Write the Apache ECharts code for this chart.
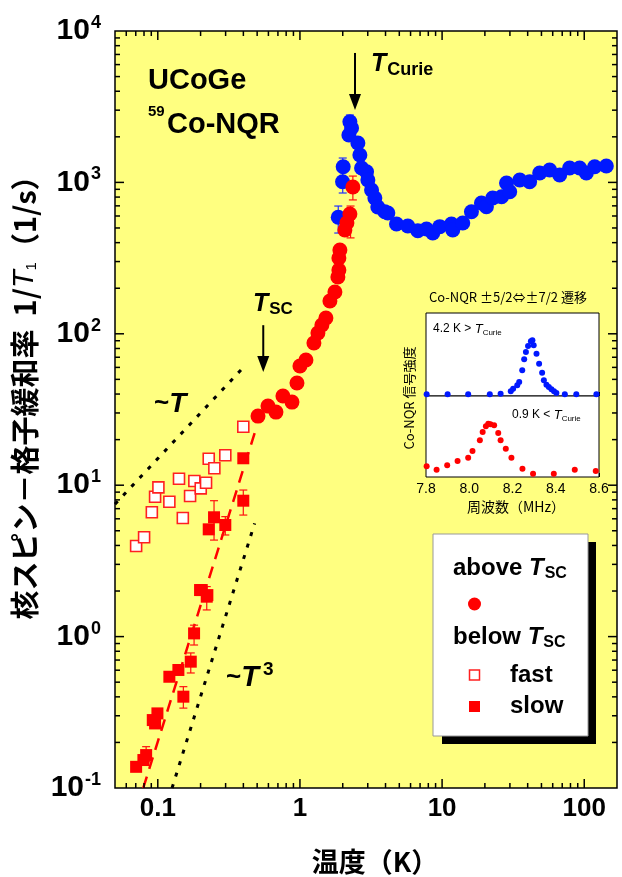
<!DOCTYPE html>
<html><head><meta charset="utf-8">
<script src="https://cdn.jsdelivr.net/npm/echarts@6/dist/echarts.min.js"></script>
<style>html,body{margin:0;padding:0;background:#fff}#c{width:622px;height:877px}</style>
</head><body><div id="c"></div>
<script>
// ---------- data ----------
const blueCircles = [
[1.86,588],[1.995,1011],[2.015,1270],[2.21,2056],[2.246,2518],[2.308,2288],
[2.556,1820],[2.64,1517],[2.714,1245],[2.942,1177],[3.005,1038],[3.19,891],
[3.365,789],[3.53,688],[3.957,640],[4.153,628],[4.78,531],[5.74,515],[6.75,480],
[7.77,492],[8.6,463],[9.63,510],[11.64,531],[11.89,485],[13.98,539],[16.09,640],
[18.92,731],[20.5,691],[22.7,789],[26.2,804],[28.4,991],[29.9,868],[35.2,1038],
[41.3,1011],[48.6,1153],[57.1,1207],[67.2,1119],[78.9,1245],[92.8,1245],[103.5,1153],
[118.4,1270],[143,1283]];
const redCircles = [
[0.507,28.6],[0.596,33.3],[0.678,30.4],[0.759,38.8],[0.879,35.4],[0.953,47.3],
[1.0,61.3],[1.102,67.1],[1.254,86.9],[1.338,101.2],[1.427,114.3],[1.523,127.2],
[1.625,164.7],[1.762,188.8],[1.849,237],[1.879,264],[1.879,317],[1.91,358],
[2.07,485],[2.14,540],[2.246,618],[2.357,932]];
const fastSquares = [
[0.0704,3.97],[0.0801,4.53],[0.0908,6.62],[0.0957,8.39],[0.101,9.67],[0.1206,7.78],
[0.141,11.04],[0.150,6.07],[0.1687,8.48],[0.1808,10.66],[0.2005,9.53],[0.2185,10.39],
[0.2282,14.96],[0.25,12.93],[0.2985,15.76],[0.3995,24.3]];
const slowSquares = [
[0.3995,15.06],[0.3995,7.9],[0.2487,6.14],[0.2282,5.11],[0.2985,5.46],[0.2038,2.03],
[0.2232,1.88],[0.1983,2.03],[0.221,1.835],[0.18,1.05],[0.1706,0.683],[0.1396,0.602],
[0.1206,0.543],[0.1513,0.401],[0.0994,0.311],[0.0922,0.281],[0.0957,0.267],
[0.0828,0.165],[0.0792,0.153],[0.0704,0.138]];
// [T, low, high, colour]
const errorBars = [
[2.246,2218,2786,'b'],[2.0,851,1449,'b'],[1.86,463,698,'b'],
[2.357,766,1101,'r'],[2.27,430,698,'r'],
[0.3995,6.35,9.29,'r'],[0.2487,4.34,7.9,'r'],[0.2985,4.69,6.2,'r'],[0.221,1.5,2.14,'r'],
[0.18,0.88,1.19,'r'],[0.1706,0.575,0.78,'r'],[0.1513,0.337,0.467,'r'],[0.0828,0.149,0.1875,'r']];
const linearGuide = [[0.05,7.5],[0.42,63]];
const cubicGuide = [[0.126,0.1],[0.48,5.6]];
const slowFit = [[0.079,0.1],[0.49,23.5]];
// arrows: [T, from, to]
const arrows = [[2.44,7160,3006],[0.552,114,56]];
const xMajor = [0.1,1,10,100];
const xLabels = ['0.1','1','10','100'];
const yMajor = [0.1,1,10,100,1000,10000];
const yExp = ['-1','0','1','2','3','4'];
// inset spectra [MHz, intensity a.u.]
const insetAbove = [
[7.803,5],[7.9,5],[7.995,5],[8.095,5],[8.145,7],[8.192,14],[8.203,22],[8.222,32],
[8.231,42],[8.245,77],[8.254,110],[8.262,132],[8.272,150],[8.285,164],[8.292,167],
[8.298,152],[8.311,127],[8.323,97],[8.337,70],[8.345,47],[8.357,34],[8.368,27],
[8.38,20],[8.392,14],[8.403,9],[8.442,5],[8.495,5],[8.588,5]];
const insetBelow = [
[7.803,32],[7.849,22],[7.898,35],[7.946,48],[7.995,58],[8.015,78],[8.049,110],
[8.062,135],[8.077,152],[8.088,160],[8.098,158],[8.115,155],[8.134,132],[8.145,110],
[8.169,85],[8.195,58],[8.246,25],[8.295,10],[8.391,10],[8.488,22],[8.585,18]];

// ---------- chart ----------
const chart = echarts.init(document.getElementById('c'), null, {renderer:'canvas'});
const SANS = 'Liberation Sans, Arial, Helvetica, sans-serif';
const JP = 'Noto Sans CJK JP, sans-serif';
const xMin = 0.05, xMax = 170, yMin = 0.1, yMax = 10000;

function minorTicks(lo, hi){
  const out=[];
  for(let e=-3;e<=4;e++) for(let m=1;m<=9;m++){
    const v=m*Math.pow(10,e); if(v>lo*1.0001 && v<hi*0.9999) out.push([v, m===1?1:0]);
  }
  return out;
}
const xTicks = minorTicks(xMin,xMax);
const yTicks = minorTicks(yMin,yMax);

const tickStyle = {stroke:'#000', lineWidth:1.5};
const xTickSeries = {
  type:'custom', xAxisIndex:0, yAxisIndex:0, silent:true, z:6, clip:false,
  data: xTicks.map(t=>[t[0],1,t[1]]), encode:{x:0,y:1},
  renderItem(params, api){
    const cs=params.coordSys; const len=api.value(2)===1?9:5;
    const px=api.coord([api.value(0),1])[0];
    return {type:'group', children:[
      {type:'line', shape:{x1:px,y1:cs.y+cs.height,x2:px,y2:cs.y+cs.height-len}, style:tickStyle},
      {type:'line', shape:{x1:px,y1:cs.y,x2:px,y2:cs.y+len}, style:tickStyle}]};
  }
};
const yTickSeries = {
  type:'custom', xAxisIndex:0, yAxisIndex:0, silent:true, z:6, clip:false,
  data: yTicks.map(t=>[1,t[0],t[1]]), encode:{x:0,y:1},
  renderItem(params, api){
    const cs=params.coordSys; const len=api.value(2)===1?9:5;
    const py=api.coord([1,api.value(1)])[1];
    return {type:'group', children:[
      {type:'line', shape:{x1:cs.x,y1:py,x2:cs.x+len,y2:py}, style:tickStyle},
      {type:'line', shape:{x1:cs.x+cs.width,y1:py,x2:cs.x+cs.width-len,y2:py}, style:tickStyle}]};
  }
};
const errSeries = {
  type:'custom', xAxisIndex:0, yAxisIndex:0, silent:true, z:3,
  data: errorBars.map(e=>[e[0],e[1],e[2],e[3]==='b'?1:0]), encode:{x:0,y:[1,2]},
  renderItem(params, api){
    const a=api.coord([api.value(0),api.value(1)]);
    const b=api.coord([api.value(0),api.value(2)]);
    const col=api.value(3)===1?'#2030ff':'#ff1010';
    const st={stroke:col,lineWidth:1.2}; const w=4;
    return {type:'group', children:[
      {type:'line', shape:{x1:a[0],y1:a[1],x2:b[0],y2:b[1]}, style:st},
      {type:'line', shape:{x1:a[0]-w,y1:a[1],x2:a[0]+w,y2:a[1]}, style:st},
      {type:'line', shape:{x1:b[0]-w,y1:b[1],x2:b[0]+w,y2:b[1]}, style:st}]};
  }
};
const arrowSeries = {
  type:'custom', xAxisIndex:0, yAxisIndex:0, silent:true, z:7, clip:false,
  data: arrows, encode:{x:0,y:[1,2]},
  renderItem(params, api){
    const a=api.coord([api.value(0),api.value(1)]);
    const b=api.coord([api.value(0),api.value(2)]);
    const hl=16, hw=6;
    return {type:'group', children:[
      {type:'line', shape:{x1:a[0],y1:a[1],x2:b[0],y2:b[1]-hl+2}, style:{stroke:'#000',lineWidth:2}},
      {type:'polygon', shape:{points:[[b[0]-hw,b[1]-hl],[b[0]+hw,b[1]-hl],[b[0],b[1]]]}, style:{fill:'#000'}}]};
  }
};

function richT(size, subSize){
  return {t:{fontSize:size,fontWeight:'bold',fontStyle:'italic',fontFamily:SANS,fill:'#000'},
          s:{fontSize:subSize,fontWeight:'bold',fontFamily:SANS,fill:'#000',padding:[size*0.45,0,0,1]}};
}
const legendRich = {a:{fontSize:24,fontWeight:'bold',fontFamily:SANS},t:{fontSize:24,fontWeight:'bold',fontStyle:'italic',fontFamily:SANS},s:{fontSize:16,fontWeight:'bold',fontFamily:SANS,padding:[12,0,0,1]}};

const graphic = [
  {type:'text', x:148, y:81, style:{text:'UCoGe', font:'bold 29px '+SANS, fill:'#000', textVerticalAlign:'middle', verticalAlign:'middle'}},
  {type:'text', x:148, y:112, style:{text:'59', font:'bold 15px '+SANS, fill:'#000', textVerticalAlign:'middle', verticalAlign:'middle'}},
  {type:'text', x:167, y:125, style:{text:'Co-NQR', font:'bold 29px '+SANS, fill:'#000', textVerticalAlign:'middle', verticalAlign:'middle'}},
  {type:'text', x:371, y:64, style:{text:'{t|T}{s|Curie}', rich:richT(25,18), textVerticalAlign:'middle', verticalAlign:'middle'}},
  {type:'text', x:253, y:304, style:{text:'{t|T}{s|SC}', rich:richT(25,17), textVerticalAlign:'middle', verticalAlign:'middle'}},
  {type:'text', x:154, y:404, style:{text:'{n|~}{t|T}', rich:{n:{fontSize:26,fontWeight:'bold',fontFamily:SANS},t:{fontSize:28,fontWeight:'bold',fontStyle:'italic',fontFamily:SANS}}, textVerticalAlign:'middle', verticalAlign:'middle'}},
  {type:'text', x:226, y:678, style:{text:'{n|~}{t|T}{p|3}', rich:{n:{fontSize:26,fontWeight:'bold',fontFamily:SANS},t:{fontSize:29,fontWeight:'bold',fontStyle:'italic',fontFamily:SANS},p:{fontSize:19,fontWeight:'bold',fontFamily:SANS,padding:[0,0,16,4]}}, textVerticalAlign:'middle', verticalAlign:'middle'}},
  // legend box
  {type:'rect', shape:{x:442,y:542,width:154,height:202}, style:{fill:'#000'}, z:10},
  {type:'rect', shape:{x:433,y:534,width:155,height:202}, style:{fill:'#fff',stroke:'#999',lineWidth:1}, z:11},
  {type:'text', x:453, y:568, z:12, style:{text:'{a|above }{t|T}{s|SC}', rich:legendRich, textVerticalAlign:'middle', verticalAlign:'middle'}},
  {type:'circle', shape:{cx:474.5,cy:604,r:6.5}, style:{fill:'#ff0000'}, z:12},
  {type:'text', x:453, y:637, z:12, style:{text:'{a|below }{t|T}{s|SC}', rich:legendRich, textVerticalAlign:'middle', verticalAlign:'middle'}},
  {type:'rect', shape:{x:469.5,y:670,width:10,height:10}, style:{fill:'#fff',stroke:'#ff2020',lineWidth:1.5}, z:12},
  {type:'text', x:510, y:675, z:12, style:{text:'fast', font:'bold 24px '+SANS, fill:'#000', textVerticalAlign:'middle', verticalAlign:'middle'}},
  {type:'rect', shape:{x:469,y:701,width:11,height:11}, style:{fill:'#ff0000'}, z:12},
  {type:'text', x:510, y:706, z:12, style:{text:'slow', font:'bold 24px '+SANS, fill:'#000', textVerticalAlign:'middle', verticalAlign:'middle'}},
  // inset texts
  {type:'text', x:508, y:297, z:12, style:{text:'Co-NQR ±5/2⇔±7/2 遷移', font:'13px '+JP, fill:'#000', textAlign:'center', align:'center', textVerticalAlign:'middle', verticalAlign:'middle'}},
  {type:'text', x:409, y:398, rotation:Math.PI/2, z:12, style:{text:'Co-NQR 信号強度', font:'13px '+JP, fill:'#000', textAlign:'center', align:'center', textVerticalAlign:'middle', verticalAlign:'middle'}},
  {type:'text', x:516, y:507, z:12, style:{text:'周波数（MHz）', font:'14px '+JP, fill:'#000', textAlign:'center', align:'center', textVerticalAlign:'middle', verticalAlign:'middle'}},
  {type:'text', x:433, y:329, z:12, style:{text:'{n|4.2 K > }{t|T}{s|Curie}', rich:{n:{fontSize:12,fontFamily:SANS},t:{fontSize:13,fontStyle:'italic',fontFamily:SANS},s:{fontSize:8,fontFamily:SANS,padding:[7,0,0,0]}}, textVerticalAlign:'middle', verticalAlign:'middle'}},
  {type:'text', x:512, y:415, z:12, style:{text:'{n|0.9 K < }{t|T}{s|Curie}', rich:{n:{fontSize:12,fontFamily:SANS},t:{fontSize:13,fontStyle:'italic',fontFamily:SANS},s:{fontSize:8,fontFamily:SANS,padding:[7,0,0,0]}}, textVerticalAlign:'middle', verticalAlign:'middle'}}
];

const option = {
  animation:false,
  backgroundColor:'#fff',
  grid:[
    {left:115, right:5, top:31, bottom:89, show:true, backgroundColor:'#ffff80', borderColor:'#000', borderWidth:1.5, outerBoundsMode:'none', containLabel:false},
    {left:426, right:23, top:313, height:83, show:true, backgroundColor:'#fff', borderColor:'#000', borderWidth:1, z:8, outerBoundsMode:'none'},
    {left:426, right:23, top:396, height:81, show:true, backgroundColor:'#fff', borderColor:'#000', borderWidth:1, z:8, outerBoundsMode:'none'}
  ],
  xAxis:[
    {type:'log', gridIndex:0, min:xMin, max:xMax, logBase:10,
     name:'{n|温度（K）}', nameLocation:'middle', nameGap:60,
     nameTextStyle:{color:'#000', rich:{n:{fontFamily:JP, fontSize:27, fontWeight:'bold', color:'#000', padding:[0,0,0,18]}}},
     axisLine:{show:false}, axisTick:{show:false}, splitLine:{show:false}, minorTick:{show:false},
     axisLabel:{customValues:xMajor, formatter:v=>xLabels[xMajor.findIndex(m=>Math.abs(m-v)/m<1e-6)] ?? '', fontFamily:SANS, fontSize:26, fontWeight:'bold', color:'#000', margin:8}},
    {type:'value', gridIndex:1, min:7.8, max:8.6, interval:0.2, axisLabel:{show:false}, splitLine:{show:false},
     axisLine:{show:false}, axisTick:{show:true, inside:true, length:4, lineStyle:{color:'#000'}}, minorTick:{show:true, splitNumber:2, length:3, lineStyle:{color:'#000'}}},
    {type:'value', gridIndex:2, min:7.8, max:8.6, interval:0.2, splitLine:{show:false},
     axisLine:{show:false}, axisTick:{show:true, inside:true, length:4, lineStyle:{color:'#000'}}, minorTick:{show:true, splitNumber:2, length:3, lineStyle:{color:'#000'}},
     axisLabel:{formatter:v=>v.toFixed(1), fontFamily:SANS, fontSize:14, color:'#000', margin:5}}
  ],
  yAxis:[
    {type:'log', gridIndex:0, min:yMin, max:yMax, logBase:10,
     name:'{n0|核}{n|スピン－格子緩和率  1/}{i|T}{u|1}{n|（1/s）}', nameLocation:'middle', nameGap:48, nameRotate:90,
     nameTextStyle:{color:'#000', rich:{
       n0:{fontFamily:JP, fontSize:29, fontWeight:'bold', color:'#000', padding:[0,0,0,38]},
       n:{fontFamily:JP, fontSize:29, fontWeight:'bold', color:'#000'},
       i:{fontFamily:SANS, fontSize:29, fontStyle:'italic', color:'#000'},
       u:{fontFamily:SANS, fontSize:15, color:'#000', padding:[14,0,0,0]}}},
     axisLine:{show:false}, axisTick:{show:false}, splitLine:{show:false}, minorTick:{show:false},
     axisLabel:{customValues:yMajor, margin:14,
       formatter:v=>{const i=yMajor.findIndex(m=>Math.abs(m-v)/m<1e-6); return i<0?'':'{b|10}{s|'+yExp[i]+'}';},
       rich:{b:{fontFamily:SANS,fontSize:30,fontWeight:'bold',color:'#000'},
             s:{fontFamily:SANS,fontSize:18,fontWeight:'bold',color:'#000',padding:[0,0,16,1]}}}},
    {type:'value', gridIndex:1, min:0, max:249, show:false},
    {type:'value', gridIndex:2, min:0, max:243, show:false}
  ],
  graphic: graphic,
  series:[
    {type:'line', data:linearGuide, showSymbol:false, symbol:'none', silent:true, z:2, lineStyle:{color:'#000',width:3,type:[4,8]}},
    {type:'line', data:cubicGuide, showSymbol:false, symbol:'none', silent:true, z:2, lineStyle:{color:'#000',width:3,type:[4,8]}},
    {type:'line', data:slowFit, showSymbol:false, symbol:'none', silent:true, z:2, lineStyle:{color:'#ff0000',width:2.5,type:[12,8]}},
    errSeries,
    {type:'scatter', data:blueCircles, symbol:'circle', symbolSize:15, itemStyle:{color:'#0018ff',opacity:1}, z:4},
    {type:'scatter', data:redCircles, symbol:'circle', symbolSize:15, itemStyle:{color:'#ff0000',opacity:1}, z:4},
    {type:'scatter', data:fastSquares, symbol:'rect', symbolSize:11, itemStyle:{color:'#fff',borderColor:'#ff2020',borderWidth:1.6,opacity:1}, z:4},
    {type:'scatter', data:slowSquares, symbol:'rect', symbolSize:12, itemStyle:{color:'#ff0000',opacity:1}, z:4},
    arrowSeries,
    xTickSeries, yTickSeries,
    {type:'scatter', xAxisIndex:1, yAxisIndex:1, data:insetAbove, symbol:'circle', symbolSize:6, itemStyle:{color:'#0018ff',opacity:1}, z:9},
    {type:'scatter', xAxisIndex:2, yAxisIndex:2, data:insetBelow, symbol:'circle', symbolSize:6, itemStyle:{color:'#ff0000',opacity:1}, z:9}
  ]
};
chart.setOption(option);
</script></body></html>
